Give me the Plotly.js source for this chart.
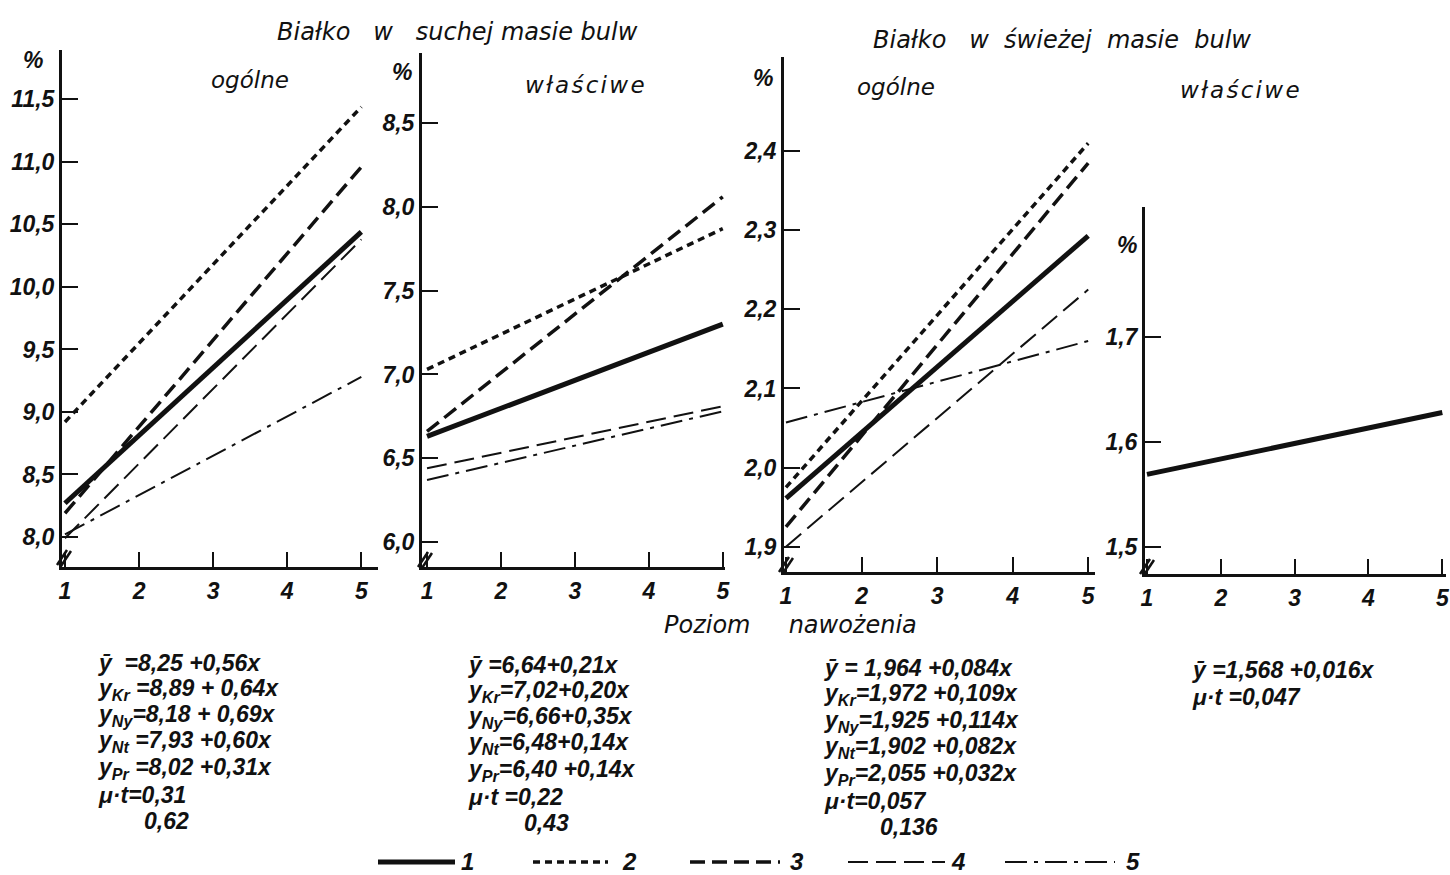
<!DOCTYPE html>
<html>
<head>
<meta charset="utf-8">
<script src="https://cdn.plot.ly/plotly-3.0.1.min.js"></script>
<style>html,body{margin:0;padding:0;background:#fff}#chart{width:1450px;height:875px}</style>
</head>
<body>
<div id="chart"></div>
<script>
// ---------- DATA ----------
const levels = [1, 5];                      // nawożenie levels at line ends
const xTickVals = [1, 2, 3, 4, 5];
const xTickText = ['1', '2', '3', '4', '5'];
const seriesKeys = ['1', '2', '3', '4', '5']; // 1 = ȳ, 2 = Kr, 3 = Ny, 4 = Nt, 5 = Pr

// Białko w suchej masie – ogólne
const dryTotalMean = [8.27, 10.44];
const dryTotalKr   = [8.92, 11.44];
const dryTotalNy   = [8.19, 10.96];
const dryTotalNt   = [7.99, 10.38];
const dryTotalPr   = [8.02, 9.28];
const dryTotalTickVals = [8.0, 8.5, 9.0, 9.5, 10.0, 10.5, 11.0, 11.5];
const dryTotalTickText = ['8,0', '8,5', '9,0', '9,5', '10,0', '10,5', '11,0', '11,5'];

// Białko w suchej masie – właściwe
const drySpecMean = [6.63, 7.30];
const drySpecKr   = [7.03, 7.87];
const drySpecNy   = [6.66, 8.06];
const drySpecNt   = [6.44, 6.81];
const drySpecPr   = [6.37, 6.78];
const drySpecTickVals = [6.0, 6.5, 7.0, 7.5, 8.0, 8.5];
const drySpecTickText = ['6,0', '6,5', '7,0', '7,5', '8,0', '8,5'];

// Białko w świeżej masie – ogólne
const freshTotalMean = [1.961, 2.293];
const freshTotalKr   = [1.975, 2.410];
const freshTotalNy   = [1.925, 2.385];
const freshTotalNt   = [1.900, 2.225];
const freshTotalPr   = [2.057, 2.160];
const freshTotalTickVals = [1.9, 2.0, 2.1, 2.2, 2.3, 2.4];
const freshTotalTickText = ['1,9', '2,0', '2,1', '2,2', '2,3', '2,4'];

// Białko w świeżej masie – właściwe
const freshSpecMean = [1.569, 1.628];
const freshSpecTickVals = [1.5, 1.6, 1.7];
const freshSpecTickText = ['1,5', '1,6', '1,7'];

// Equations under the panels
const eqDryTotal = ['ȳ&nbsp; =8,25 +0,56x', 'y<sub>Kr</sub> =8,89 + 0,64x', 'y<sub>Ny</sub>=8,18 + 0,69x',
                    'y<sub>Nt</sub> =7,93 +0,60x', 'y<sub>Pr</sub> =8,02 +0,31x', 'μ·t=0,31'];
const lsdDryTotal = '0,62';
const eqDrySpec = ['ȳ =6,64+0,21x', 'y<sub>Kr</sub>=7,02+0,20x', 'y<sub>Ny</sub>=6,66+0,35x',
                   'y<sub>Nt</sub>=6,48+0,14x', 'y<sub>Pr</sub>=6,40 +0,14x', 'μ·t =0,22'];
const lsdDrySpec = '0,43';
const eqFreshTotal = ['ȳ = 1,964 +0,084x', 'y<sub>Kr</sub>=1,972 +0,109x', 'y<sub>Ny</sub>=1,925 +0,114x',
                      'y<sub>Nt</sub>=1,902 +0,082x', 'y<sub>Pr</sub>=2,055 +0,032x', 'μ·t=0,057'];
const lsdFreshTotal = '0,136';
const eqFreshSpec = ['ȳ =1,568 +0,016x', 'μ·t =0,047'];

// ---------- STYLE ----------
const W = 1450, H = 875;
const px = x => x / W;
const py = y => 1 - y / H;
const INK = '#111';
const FONT = 'Liberation Sans, Arial, sans-serif';
const TFONT = 'DejaVu Sans, Liberation Sans, sans-serif';

const styles = {
  '1': {width: 5,   dash: 'solid'},
  '2': {width: 3.5, dash: '7px,5px'},
  '3': {width: 3.5, dash: '15px,7px'},
  '4': {width: 2,   dash: '20px,8px'},
  '5': {width: 2,   dash: '22px,7px,4px,7px'}
};

function lineTrace(key, ys, ax) {
  return {
    x: levels, y: ys, xaxis: 'x' + ax, yaxis: 'y' + ax,
    mode: 'lines', showlegend: false, hoverinfo: 'skip', cliponaxis: false,
    line: {color: INK, width: styles[key].width, dash: styles[key].dash}
  };
}

const traces = [];
const panelSeries = [
  [dryTotalMean, dryTotalKr, dryTotalNy, dryTotalNt, dryTotalPr],
  [drySpecMean, drySpecKr, drySpecNy, drySpecNt, drySpecPr],
  [freshTotalMean, freshTotalKr, freshTotalNy, freshTotalNt, freshTotalPr],
  [freshSpecMean]
];
// thin lines first, thick mean on top
const order = [4, 3, 2, 1, 0];
panelSeries.forEach((arr, p) => {
  const ax = p === 0 ? '' : String(p + 1);
  order.forEach(i => { if (arr[i]) traces.push(lineTrace(seriesKeys[i], arr[i], ax)); });
});

const tickFont = {family: FONT, size: 23, color: INK, style: 'italic', weight: 'bold'};
function xax(dom, range, yanchor) {
  return {domain: dom, range: range, anchor: yanchor, showline: true, linewidth: 3, linecolor: INK,
    ticks: 'inside', ticklen: 15, tickwidth: 2, tickcolor: INK, showgrid: false, zeroline: false,
    tickvals: xTickVals, ticktext: xTickText, tickfont: tickFont, fixedrange: true, ticklabelstandoff: 1};
}
function yax(dom, range, xanchor, tv, tt) {
  return {domain: dom, range: range, anchor: xanchor, showline: true, linewidth: 3, linecolor: INK,
    ticks: 'inside', ticklen: 16, tickwidth: 2, tickcolor: INK, showgrid: false, zeroline: false,
    tickvals: tv, ticktext: tt, tickfont: tickFont, fixedrange: true, ticklabelstandoff: 0};
}

const layout = {
  width: W, height: H, margin: {l: 0, r: 0, t: 0, b: 0},
  paper_bgcolor: '#fff', plot_bgcolor: 'rgba(0,0,0,0)', showlegend: false,
  xaxis:  xax([px(62),   px(378)],  [0.96, 5.225], 'y'),
  yaxis:  yax([py(567),  py(50)],   [7.76, 11.895], 'x',  dryTotalTickVals, dryTotalTickText),
  xaxis2: xax([px(422),  px(725)],  [0.932, 5.03], 'y2'),
  yaxis2: yax([py(567),  py(53)],   [5.851, 8.918], 'x2', drySpecTickVals, drySpecTickText),
  xaxis3: xax([px(784),  px(1095)], [0.974, 5.09], 'y3'),
  yaxis3: yax([py(572),  py(57)],   [1.868, 2.519], 'x3', freshTotalTickVals, freshTotalTickText),
  xaxis4: xax([px(1145), px(1446)], [0.973, 5.05], 'y4'),
  yaxis4: yax([py(574),  py(207)],  [1.474, 1.824], 'x4', freshSpecTickVals, freshSpecTickText),
  annotations: [],
  shapes: []
};

function txt(text, x, y, size, opts) {
  opts = opts || {};
  layout.annotations.push({
    text: text, xref: 'paper', yref: 'paper', x: px(x), y: py(y),
    xanchor: opts.xanchor || 'center', yanchor: 'middle', showarrow: false,
    font: {family: opts.family || FONT, size: size, color: INK, style: 'italic', weight: opts.weight || 'bold'}
  });
}

// Titles
const tOpt = {family: TFONT, weight: 'normal'};
const HS = '\u200A';
const wlasciwe = ['w', 'ł', 'a', 'ś', 'c', 'i', 'w', 'e'].join(HS);
txt('Białko&nbsp;&nbsp; w&nbsp;&nbsp; suchej masie bulw', 458, 32, 24, tOpt);
txt('Białko&nbsp;&nbsp; w&nbsp; świeżej&nbsp; masie&nbsp; bulw', 1062, 40, 24, tOpt);
txt('ogólne', 250, 80, 23, tOpt);
txt(wlasciwe, 585, 85, 23, tOpt);
txt('ogólne', 896, 87, 23, tOpt);
txt(wlasciwe, 1240, 90, 23, tOpt);
txt('Poziom&nbsp;&nbsp;&nbsp;&nbsp; nawożenia', 790, 625, 24, tOpt);

// % signs
txt('%', 33, 60, 23); txt('%', 402, 72, 23); txt('%', 763, 78, 23); txt('%', 1127, 245, 23);

// Equation blocks
function eqBlock(lines, x, y0, step, lsd, lsdX) {
  lines.forEach((l, i) => txt(l, x, y0 + i * step, 23, {xanchor: 'left'}));
  if (lsd) txt(lsd, lsdX, y0 + lines.length * step, 23, {xanchor: 'left'});
}
eqBlock(eqDryTotal, 96, 663, 26.3, lsdDryTotal, 142);
eqBlock(eqDrySpec, 466, 665, 26.3, lsdDrySpec, 522);
eqBlock(eqFreshTotal, 822, 668, 26.5, lsdFreshTotal, 878);
eqBlock(eqFreshSpec, 1190, 670, 27, null, 0);

// Axis break marks
[[64, 558], [425, 560], [786, 565], [1147, 567]].forEach(([x, y]) => {
  layout.shapes.push({type: 'line', xref: 'paper', yref: 'paper',
    x0: px(x - 7), y0: py(y + 7), x1: px(x + 3), y1: py(y - 8), line: {color: INK, width: 2.5}});
  layout.shapes.push({type: 'line', xref: 'paper', yref: 'paper',
    x0: px(x - 3), y0: py(y + 8), x1: px(x + 7), y1: py(y - 7), line: {color: INK, width: 2.5}});
});

// Legend keys (bottom)
const legendKeyPos = [[378, 455, 467], [533, 608, 629], [690, 780, 797], [848, 945, 958], [1005, 1115, 1133]];
seriesKeys.forEach((k, i) => {
  const [a, b, t] = legendKeyPos[i];
  layout.shapes.push({type: 'line', xref: 'paper', yref: 'paper', x0: px(a), x1: px(b), y0: py(862), y1: py(862),
    line: {color: INK, width: styles[k].width, dash: styles[k].dash}});
  txt(k, t, 861, 24);
});

Plotly.newPlot('chart', traces, layout, {staticPlot: true, displayModeBar: false});
</script>
</body>
</html>
